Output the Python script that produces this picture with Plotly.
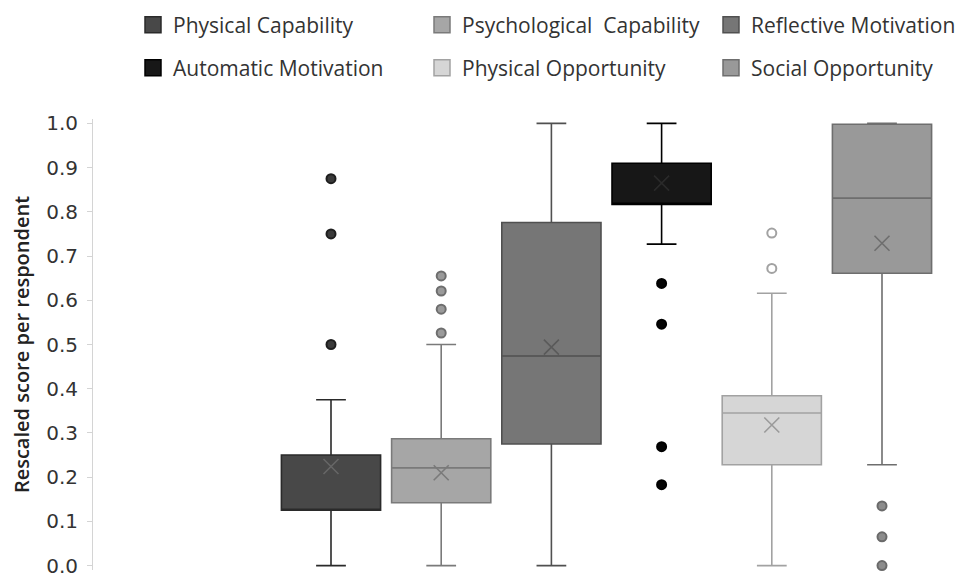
import plotly.graph_objects as go

categories = ["Physical Capability", "Psychological  Capability", "Reflective Motivation",
              "Automatic Motivation", "Physical Opportunity", "Social Opportunity"]
positions = [1, 2, 3, 4, 5, 6]
lower_whisker = [0.0, 0.0, 0.0, 0.727, 0.0, 0.228]
q1_vals = [0.125, 0.142, 0.275, 0.817, 0.228, 0.661]
median_vals = [0.125, 0.221, 0.474, 0.817, 0.345, 0.831]
q3_vals = [0.25, 0.287, 0.776, 0.910, 0.384, 0.998]
upper_whisker = [0.375, 0.5, 1.0, 1.0, 0.616, 1.0]
mean_vals = [0.224, 0.210, 0.494, 0.865, 0.318, 0.729]
outliers = [
    [0.875, 0.75, 0.5],
    [0.655, 0.621, 0.580, 0.526],
    [],
    [0.638, 0.546, 0.269, 0.183],
    [0.752, 0.672],
    [0.135, 0.065, 0.0],
]
y_ticks = [0.0, 0.1, 0.2, 0.3, 0.4, 0.5, 0.6, 0.7, 0.8, 0.9, 1.0]

fill_colors = ["#484848", "#a6a6a6", "#767676", "#171717", "#d6d6d6", "#999999"]
line_colors = ["#2a2a2a", "#7a7a7a", "#505050", "#000000", "#a2a2a2", "#6e6e6e"]
mean_colors = ["#666666", "#7a7a7a", "#5a5a5a", "#2a2a2a", "#9a9a9a", "#6e6e6e"]
out_fill = ["#3a3a3a", "#9a9a9a", "#767676", "#050505", "#ffffff", "#8c8c8c"]
out_line = ["#1e1e1e", "#6e6e6e", "#505050", "#000000", "#a2a2a2", "#6a6a6a"]

fig = go.Figure()
for i, name in enumerate(categories):
    fig.add_trace(go.Box(
        x=[positions[i]], q1=[q1_vals[i]], median=[median_vals[i]], q3=[q3_vals[i]],
        lowerfence=[lower_whisker[i]], upperfence=[upper_whisker[i]],
        name=name, width=0.9, whiskerwidth=0.3, boxpoints=False, showlegend=False,
        fillcolor=fill_colors[i], line=dict(color=line_colors[i], width=1.6),
        hoverinfo="skip",
    ))
for i, name in enumerate(categories):
    fig.add_trace(go.Scatter(
        x=[positions[i]], y=[mean_vals[i]], mode="markers", showlegend=False,
        marker=dict(symbol="x-thin", size=15, line=dict(color=mean_colors[i], width=1.6)),
        hoverinfo="skip", cliponaxis=False,
    ))
    if outliers[i]:
        fig.add_trace(go.Scatter(
            x=[positions[i]] * len(outliers[i]), y=outliers[i], mode="markers",
            showlegend=False,
            marker=dict(symbol="circle", size=9, color=out_fill[i],
                        line=dict(color=out_line[i], width=2)),
            hoverinfo="skip", cliponaxis=False,
        ))
# legend entries
for i, name in enumerate(categories):
    fig.add_trace(go.Scatter(
        x=[None], y=[None], mode="markers", name=name,
        marker=dict(symbol="square", size=16, color=fill_colors[i],
                    line=dict(color=line_colors[i], width=1.5)),
        legend="legend" if i < 3 else "legend2",
    ))

legend_common = dict(orientation="h", xref="container", yref="container",
                     xanchor="left", yanchor="middle", entrywidth=244,
                     font=dict(family="Open Sans", size=21, color="#333333"),
                     bgcolor="rgba(0,0,0,0)", traceorder="normal")

fig.update_layout(
    width=969, height=577,
    margin=dict(l=85, r=17, t=111, b=15, autoexpand=False),
    paper_bgcolor="white", plot_bgcolor="white",
    showlegend=True,
    legend=dict(x=125 / 969, y=1 - 17 / 577, **legend_common),
    legend2=dict(x=125 / 969, y=1 - 60 / 577, **legend_common),
    xaxis=dict(range=[-1.1597, 6.7078], visible=False, showgrid=False, zeroline=False,
               automargin=False),
    yaxis=dict(range=[-0.01, 1.01], tickvals=y_ticks, tickformat=".1f", automargin=False,
               showgrid=False, zeroline=False, showline=True, linecolor="#d4d4d4",
               linewidth=1, ticks="outside", ticklen=5, tickcolor="#d4d4d4",
               ticklabelstandoff=5,
               tickfont=dict(family="DejaVu Sans", size=20, color="#333333"),
               title=dict(text="Rescaled score per respondent", standoff=13,
                          font=dict(family="Open Sans", size=20, weight=600,
                                    color="#222222"))),
)

fig.write_html("out.html")
